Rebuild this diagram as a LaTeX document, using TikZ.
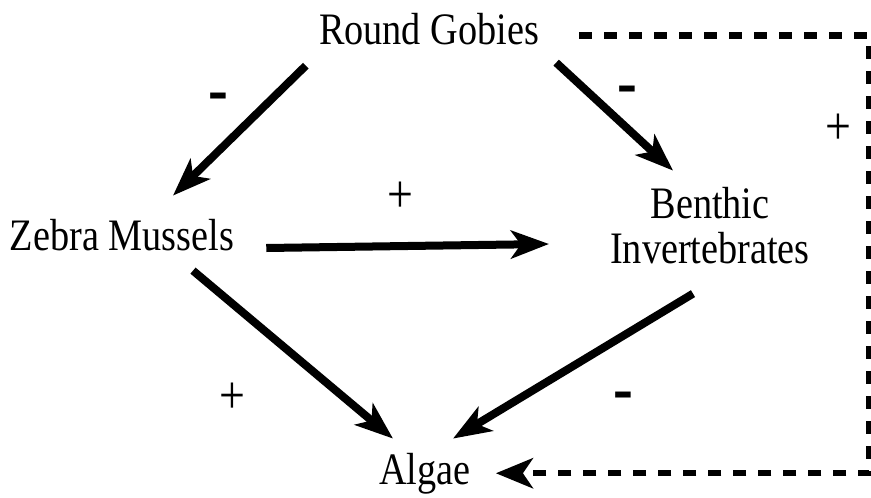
\documentclass[tikz,border=0pt]{standalone}
\usepackage{fontspec}
\setmainfont[FakeStretch=0.85]{Liberation Serif}
\usetikzlibrary{arrows.meta,positioning,calc}

\tikzset{
  especie/.style={inner sep=0pt, font=\fontsize{45}{45}\selectfont},
  seta/.style={line width=8pt, -{Stealth[length=38pt,width=28pt,inset=10pt]}},
  tracejada/.style={line width=6.5pt, dash pattern=on 13pt off 12pt,
    -{Stealth[length=37pt,width=30pt,inset=10pt]}},
  menos/.style={inner sep=0pt, font=\bfseries\fontsize{70}{70}\selectfont},
  mais/.style={inner sep=0pt, font=\fontsize{54}{54}\selectfont},
}

\begin{document}
\begin{tikzpicture}[x=1pt,y=-1pt]
    \useasboundingbox (0,0) rectangle (871,498);

    % Espécies
    \node[especie, anchor=base] (gobies) at (429,44) {Round Gobies};
    \node[especie, anchor=base] (zebra) at (122,250) {Zebra Mussels};
    \node[especie, anchor=base, align=center] (benthic) at (710,263) {Benthic\\Invertebrates};
    \node[especie, anchor=base] (algae) at (425,484) {Algae};

    % Setas cheias
    \draw[seta] ($(gobies.south west)+(-13,21)$) -- ($(zebra.north)+(51,-23)$);
    \draw[seta] ($(gobies.south east)+(17,18)$) -- ($(benthic.north)+(-37,-16)$);
    \draw[seta] ($(zebra.base east)+(32,-2)$) -- ($(benthic.base west)+(-61,-19)$);
    \draw[seta] ($(zebra.south)+(71,20)$) -- ($(algae.north)+(-32,-14)$);
    \draw[seta] ($(benthic.south)+(-17,30)$) -- ($(algae.north)+(28,-14)$);

    % Seta tracejada
    \coordinate (volta) at (869,0);
    \draw[tracejada] ($(gobies.east)+(40,7)$) -| (volta |- algae.east) -- ($(algae.east)+(25,0)$);

    % Sinais
    \node[menos] (s1) at (218,103) {-};
    \node[menos] (s2) at (627,96) {-};
    \node[mais] (s3) at (400,197) {+};
    \node[mais] (s4) at (838,129) {+};
    \node[mais] (s5) at (232,398) {+};
    \node[menos] (s6) at (623,402) {-};
\end{tikzpicture}
\end{document}
